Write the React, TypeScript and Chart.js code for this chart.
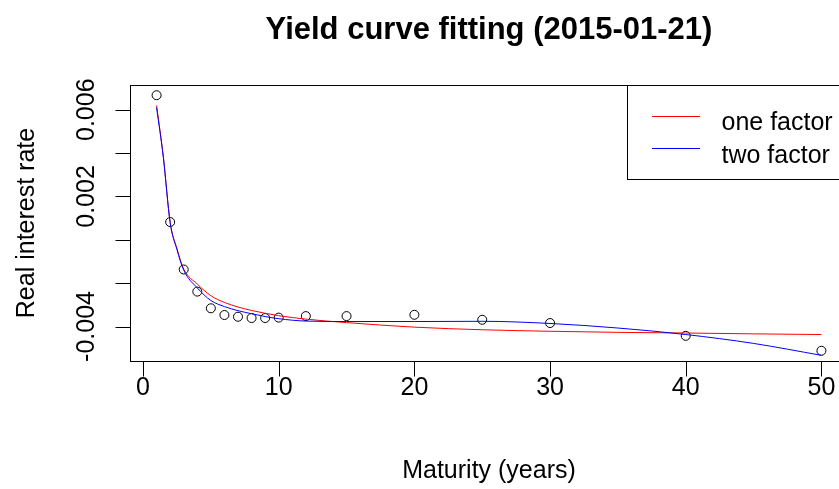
import React, { useEffect, useRef } from "react";
import { Chart, registerables } from "chart.js";

Chart.register(...registerables);

// Observed real rates by maturity (years)
const maturities = [1, 2, 3, 4, 5, 6, 7, 8, 9, 10, 12, 15, 20, 25, 30, 40, 50];
const observedRates = [
  0.00667, 0.00082, -0.00137, -0.00239, -0.00316, -0.00347, -0.00355, -0.00361,
  -0.00361, -0.00359, -0.00352, -0.00352, -0.00346, -0.00369, -0.00384, -0.00443, -0.00512,
];

// Fitted curves sampled on a maturity grid
const fitMaturities = [1, 1.5, 2, 2.5, 3, 4, 5, 6, 7, 8, 9, 10, 12, 15, 20, 25, 30, 35, 40, 45, 50];
const oneFactorFit = [
  0.0062, 0.0038, 0.0008, -0.0004, -0.00135, -0.00204, -0.00258, -0.00289, -0.0031, -0.00326,
  -0.00339, -0.0035, -0.00366, -0.00382, -0.00403, -0.00415, -0.00422, -0.00427, -0.0043,
  -0.00434, -0.00437,
];
const twoFactorFit = [
  0.0061, 0.0038, 0.0008, -0.00045, -0.0014, -0.00222, -0.0028, -0.00308, -0.00327, -0.00341,
  -0.00354, -0.00364, -0.00375, -0.00377, -0.00377, -0.00376, -0.00386, -0.00407, -0.00437,
  -0.00478, -0.00533,
];

const xTicks = [0, 10, 20, 30, 40, 50];
const yTicks = [-0.004, -0.002, 0, 0.002, 0.004, 0.006];
const yTickLabels = ["-0.004", "", "", "0.002", "", "0.006"];

const seriesNames = ["one factor", "two factor"];
const seriesColors = ["#ff0000", "#0000ff"];

const FONT = '"Liberation Sans", Arial, Helvetica, sans-serif';

// Axis range padded by 4% on each side, as in base R graphics
function paddedRange(values: number[]) {
  const lo = Math.min(...values);
  const hi = Math.max(...values);
  const pad = (hi - lo) * 0.04;
  return { min: lo - pad, max: hi + pad };
}

const framePlugin = {
  id: "rFrame",
  afterDraw(chart: any) {
    const { ctx, chartArea: a, scales } = chart;
    const xs = scales.x;
    const ys = scales.y;
    const L = Math.round(a.left) + 0.5;
    const T = Math.round(a.top) + 0.5;
    const R = Math.round(a.right) + 0.5;
    const B = Math.round(a.bottom) + 0.5;
    const tick = 15;

    ctx.save();
    ctx.strokeStyle = "#000";
    ctx.lineWidth = 1;
    ctx.strokeRect(L, T, R - L, B - T);

    ctx.beginPath();
    xTicks.forEach((v) => {
      const px = Math.round(xs.getPixelForValue(v)) + 0.5;
      ctx.moveTo(px, B);
      ctx.lineTo(px, B + tick);
    });
    yTicks.forEach((v) => {
      const py = Math.round(ys.getPixelForValue(v)) + 0.5;
      ctx.moveTo(L, py);
      ctx.lineTo(L - tick, py);
    });
    ctx.stroke();

    ctx.fillStyle = "#000";
    ctx.font = `25px ${FONT}`;
    ctx.textAlign = "center";
    ctx.textBaseline = "alphabetic";
    xTicks.forEach((v) => ctx.fillText(String(v), xs.getPixelForValue(v), B + 33));

    yTicks.forEach((v, i) => {
      const label = yTickLabels[i];
      if (!label) return;
      ctx.save();
      ctx.translate(L - 36.5, ys.getPixelForValue(v));
      ctx.rotate(-Math.PI / 2);
      ctx.fillText(label, 0, 0);
      ctx.restore();
    });

    const cx = (a.left + a.right) / 2;
    ctx.fillText("Maturity (years)", cx, B + 116);
    ctx.save();
    ctx.translate(L - 97, (a.top + a.bottom) / 2);
    ctx.rotate(-Math.PI / 2);
    ctx.fillText("Real interest rate", 0, 0);
    ctx.restore();

    ctx.font = `bold 31px ${FONT}`;
    ctx.fillText("Yield curve fitting (2015-01-21)", cx, 39);

    // legend box in the top-right corner
    const lx = 627.5;
    const lb = 179.5;
    ctx.fillStyle = "#fff";
    ctx.fillRect(lx, T, R - lx, lb - T);
    ctx.strokeRect(lx, T, R - lx, lb - T);
    ctx.font = `25px ${FONT}`;
    ctx.textAlign = "left";
    seriesNames.forEach((name, i) => {
      const rowY = 115.5 + i * 32.6;
      ctx.strokeStyle = seriesColors[i];
      ctx.beginPath();
      ctx.moveTo(652, Math.round(rowY) + 0.5);
      ctx.lineTo(700, Math.round(rowY) + 0.5);
      ctx.stroke();
      ctx.fillStyle = "#000";
      ctx.fillText(name, 721.5, rowY + 14.5);
    });
    ctx.restore();
  },
};

export default function App() {
  const canvasRef = useRef<HTMLCanvasElement | null>(null);

  useEffect(() => {
    document.body.style.margin = "0";
    document.body.style.overflow = "hidden";
    const canvas = canvasRef.current;
    if (!canvas) return;

    const xRange = paddedRange(maturities);
    const yRange = paddedRange(observedRates);

    const chart = new Chart(canvas, {
      type: "scatter",
      data: {
        datasets: [
          {
            label: seriesNames[1],
            data: fitMaturities.map((m, i) => ({ x: m, y: twoFactorFit[i] })),
            showLine: true,
            borderColor: seriesColors[1],
            borderWidth: 1,
            pointRadius: 0,
            cubicInterpolationMode: "monotone",
          },
          {
            label: seriesNames[0],
            data: fitMaturities.map((m, i) => ({ x: m, y: oneFactorFit[i] })),
            showLine: true,
            borderColor: seriesColors[0],
            borderWidth: 1,
            pointRadius: 0,
            cubicInterpolationMode: "monotone",
          },
          {
            label: "observed",
            data: maturities.map((m, i) => ({ x: m, y: observedRates[i] })),
            showLine: false,
            pointStyle: "circle",
            pointRadius: 4.5,
            pointBorderWidth: 1,
            pointBorderColor: "#000",
            pointBackgroundColor: "rgba(0,0,0,0)",
          },
        ],
      },
      options: {
        animation: false,
        responsive: false,
        devicePixelRatio: 1,
        layout: { padding: { left: 130, top: 85, right: 12, bottom: 128 } },
        plugins: { legend: { display: false }, tooltip: { enabled: false } },
        scales: {
          x: { type: "linear", display: false, min: xRange.min, max: xRange.max },
          y: { type: "linear", display: false, min: yRange.min, max: yRange.max },
        },
      },
      plugins: [framePlugin],
    });

    return () => chart.destroy();
  }, []);

  return (
    <div style={{ width: 839, height: 489, overflow: "hidden", background: "#fff" }}>
      <canvas ref={canvasRef} width={860} height={489} style={{ display: "block" }} />
    </div>
  );
}
